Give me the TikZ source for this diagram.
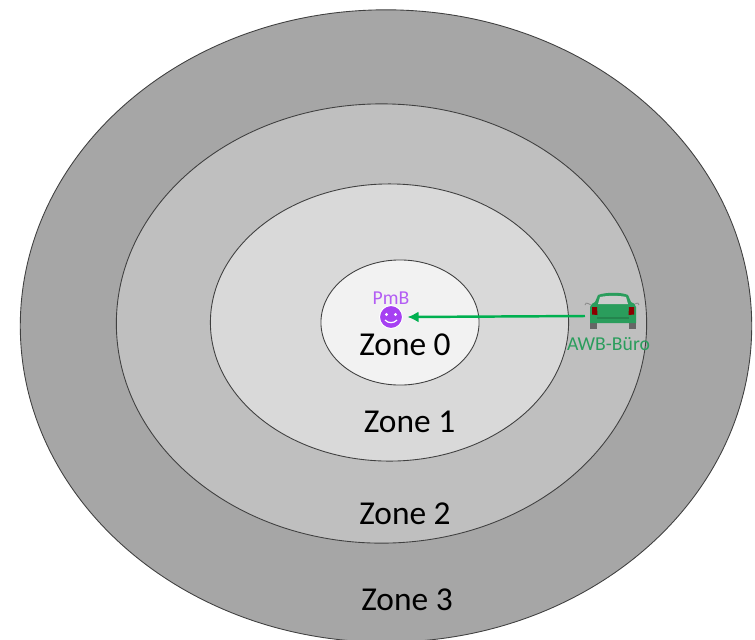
\documentclass[tikz,border=0pt]{standalone}
\usepackage{fontspec}
\setmainfont{Carlito}
\usetikzlibrary{shapes.geometric,arrows.meta}
\definecolor{zoneA}{HTML}{F2F2F2}
\definecolor{zoneB}{HTML}{D9D9D9}
\definecolor{zoneC}{HTML}{BFBFBF}
\definecolor{zoneD}{HTML}{A6A6A6}
\definecolor{arrowGreen}{HTML}{00B050}
\definecolor{carGreen}{HTML}{2A9D5C}
\definecolor{pmbPurple}{HTML}{A640F2}

\begin{document}
\begin{tikzpicture}[
    x=0.01cm, y=-0.01cm,
    zone/.style={ellipse, draw=black!75, line width=0.25pt, inner sep=0pt},
    zoneLabel/.style={font=\fontsize{9.5}{11}\selectfont, text=black, inner sep=0pt},
    smallLabel/.style={font=\fontsize{5.6}{7}\selectfont, inner sep=0pt},
    face/.style={circle, fill=pmbPurple, draw=white, line width=0.3pt, minimum size=0.23cm, inner sep=0pt, outer sep=0.05cm},
    carSpot/.style={rectangle, minimum width=0.5cm, minimum height=0.3cm, inner sep=0pt, outer sep=0pt}
]
\useasboundingbox (0,0) rectangle (755,639);

% Zones
\node[zone, fill=zoneD, minimum width=7.31cm, minimum height=6.32cm] (z3) at (386,326) {};
\node[zone, fill=zoneC, minimum width=5.30cm, minimum height=4.39cm] (z2) at (381.5,323.5) {};
\node[zone, fill=zoneB, minimum width=3.58cm, minimum height=2.77cm] (z1) at (389.5,322.5) {};
\node[zone, fill=zoneA, minimum width=1.58cm, minimum height=1.25cm] (z0) at (400,322.5) {};

% Labels
\node[zoneLabel] (l0) at (405,345) {Zone 0};
\node[zoneLabel] (l1) at (409.5,422) {Zone 1};
\node[zoneLabel] (l2) at (405,514) {Zone 2};
\node[zoneLabel] (l3) at (407,600) {Zone 3};
\node[smallLabel, text=pmbPurple!85!white] (pmbText) at (391,298.5) {PmB};
\node[smallLabel, text=carGreen] (carText) at (608.5,344) {AWB-Büro};

% Smiley
\node[face] (pmb) at (391,317) {};
\fill[white] (386.5,314.5) circle (1.7);
\fill[white] (395.5,314.5) circle (1.7);
\draw[white, line width=0.35pt] (385,320) .. controls (388,323.5) and (394,323.5) .. (397,320);

% Car
\node[carSpot] (car) at (610,316) {};
\fill[black!60] (590,322) rectangle (596.5,328.5);
\fill[black!60] (629,322) rectangle (635.5,328.5);
\draw[black!45, line width=0.25pt] (591,305) .. controls (586,302) and (585,303) .. (585,305);
\draw[black!45, line width=0.25pt] (633,305) .. controls (638,302) and (639,303) .. (639,305);
\fill[carGreen] (590,307) .. controls (591,304) and (593,303) .. (595,302) -- (598,295)
    .. controls (605,292) and (622,292) .. (628,295) -- (631,302)
    .. controls (634,303) and (635,304) .. (636,307) -- (636,323) -- (590,323) -- cycle;
\fill[black!20] (598,304) -- (600,297) .. controls (607,295.5) and (620,295.5) .. (626,297) -- (628,304) -- cycle;
\fill[red!55!black] (592,307) -- (597,307) -- (597.5,315) -- (592,314.5) -- cycle;
\fill[red!55!black] (634,307) -- (629,307) -- (628.5,315) -- (634,314.5) -- cycle;
\draw[black!15!carGreen, line width=0.5pt] (597,318) -- (629,318);

% Arrow
\draw[-{Latex[length=0.11cm,width=0.11cm]}, arrowGreen, line width=0.7pt] (car.west) -- (pmb.east);

\end{tikzpicture}
\end{document}
